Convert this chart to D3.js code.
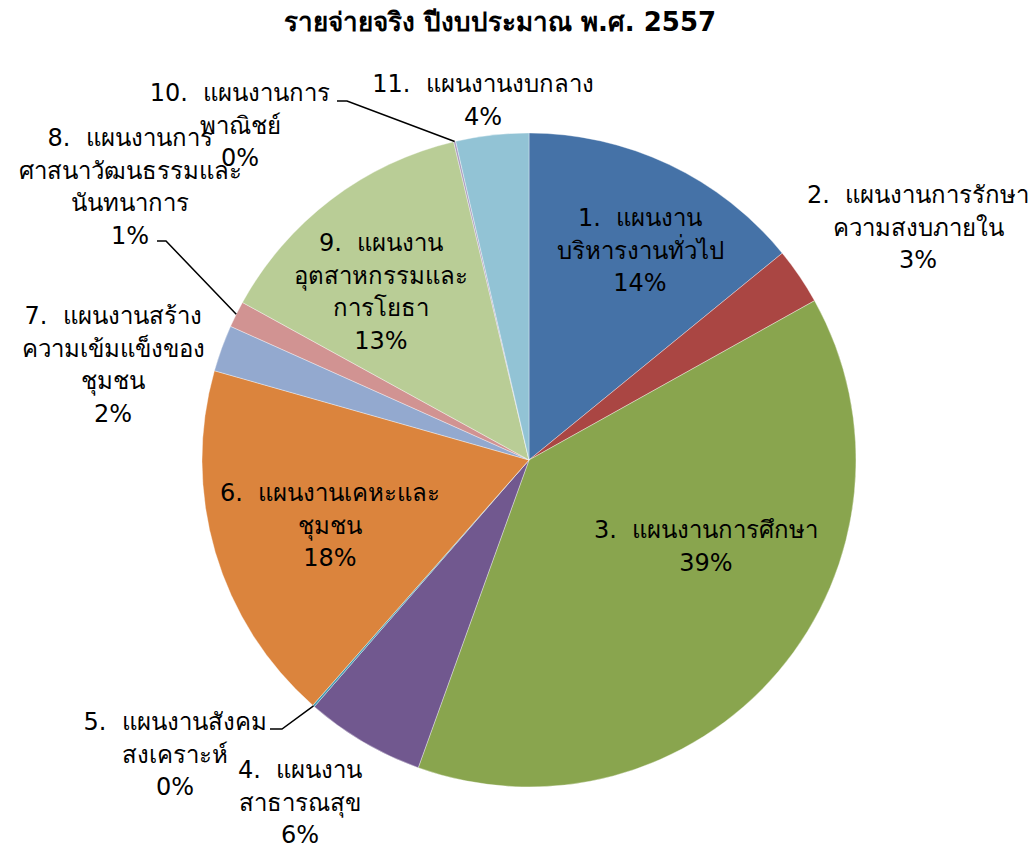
<!DOCTYPE html>
<html><head><meta charset="utf-8">
<script src="https://cdn.jsdelivr.net/npm/d3@7"></script>
<style>
html,body{margin:0;padding:0;background:#fff;}
text{font-family:Tahoma,"DejaVu Sans","Noto Sans",sans-serif;fill:#000;white-space:pre;}
</style></head>
<body>
<svg id="chart" width="1036" height="844"></svg>
<script>
const title = "รายจ่ายจริง ปีงบประมาณ พ.ศ. 2557";
const categories = [
  "1.  แผนงานบริหารงานทั่วไป",
  "2.  แผนงานการรักษาความสงบภายใน",
  "3.  แผนงานการศึกษา",
  "4.  แผนงานสาธารณสุข",
  "5.  แผนงานสังคมสงเคราะห์",
  "6.  แผนงานเคหะและชุมชน",
  "7.  แผนงานสร้างความเข้มแข็งของชุมชน",
  "8.  แผนงานการศาสนาวัฒนธรรมและนันทนาการ",
  "9.  แผนงานอุตสาหกรรมและการโยธา",
  "10.  แผนงานการพาณิชย์",
  "11.  แผนงานงบกลาง"
];
const labelLines = [
  ["1.  แผนงาน", "บริหารงานทั่วไป"],
  ["2.  แผนงานการรักษา", "ความสงบภายใน"],
  ["3.  แผนงานการศึกษา"],
  ["4.  แผนงาน", "สาธารณสุข"],
  ["5.  แผนงานสังคม", "สงเคราะห์"],
  ["6.  แผนงานเคหะและ", "ชุมชน"],
  ["7.  แผนงานสร้าง", "ความเข้มแข็งของ", "ชุมชน"],
  ["8.  แผนงานการ", "ศาสนาวัฒนธรรมและ", "นันทนาการ"],
  ["9.  แผนงาน", "อุตสาหกรรมและ", "การโยธา"],
  ["10.  แผนงานการ", "พาณิชย์"],
  ["11.  แผนงานงบกลาง"]
];
const values = [14.1, 2.8, 38.6, 5.9, 0.1, 17.9, 2.3, 1.3, 13.3, 0.1, 3.6];
const colors = ["#4572A7","#AA4643","#89A54E","#71588F","#4198AF","#DB843D","#93A9CF","#D19392","#B9CD96","#A99BBD","#92C3D5"];

// layout: label block centre (x, first line y) and leader lines
const labelLayout = [
  {x:640, y:218},
  {x:918, y:195},
  {x:706, y:530},
  {x:300, y:770},
  {x:175, y:722, leader:[270,282], ly:729},
  {x:330, y:493},
  {x:113, y:316},
  {x:130, y:138, leader:[157,166], ly:241},
  {x:381, y:243},
  {x:240, y:93,  leader:[337,347], ly:101},
  {x:483, y:84}
];

const svg = d3.select("#chart");
const cx = 529, cy = 460, r = 327;
const lineH = 32.5;

svg.append("text").attr("x", 500).attr("y", 22)
  .attr("text-anchor","middle").attr("dominant-baseline","central")
  .style("font-size","26px").style("font-weight","bold").text(title);

const pie = d3.pie().sort(null).value(d => d)(values);
const arc = d3.arc().innerRadius(0).outerRadius(r);
const total = d3.sum(values);

const g = svg.append("g").attr("transform", `translate(${cx},${cy})`);
g.selectAll("path").data(pie).join("path")
  .attr("d", arc)
  .attr("fill", (d,i) => colors[i])
  .attr("stroke", "rgba(255,255,255,0.45)")
  .attr("stroke-width", 0.8);

const lab = svg.append("g");
pie.forEach((d,i) => {
  const L = labelLayout[i];
  const lines = labelLines[i].concat([Math.round(values[i]/total*100) + "%"]);
  lines.forEach((t,k) => {
    lab.append("text").attr("x", L.x).attr("y", L.y + k*lineH)
      .attr("text-anchor","middle").attr("dominant-baseline","central")
      .style("font-size","24px").text(t);
  });
  if (L.leader) {
    const a = (d.startAngle + d.endAngle)/2;
    const ex = cx + r*Math.sin(a), ey = cy - r*Math.cos(a);
    lab.append("path")
      .attr("d", `M${L.leader[0]},${L.ly}L${L.leader[1]},${L.ly}L${ex},${ey}`)
      .attr("fill","none").attr("stroke","#000").attr("stroke-width",1.5);
  }
});
</script>
</body></html>
